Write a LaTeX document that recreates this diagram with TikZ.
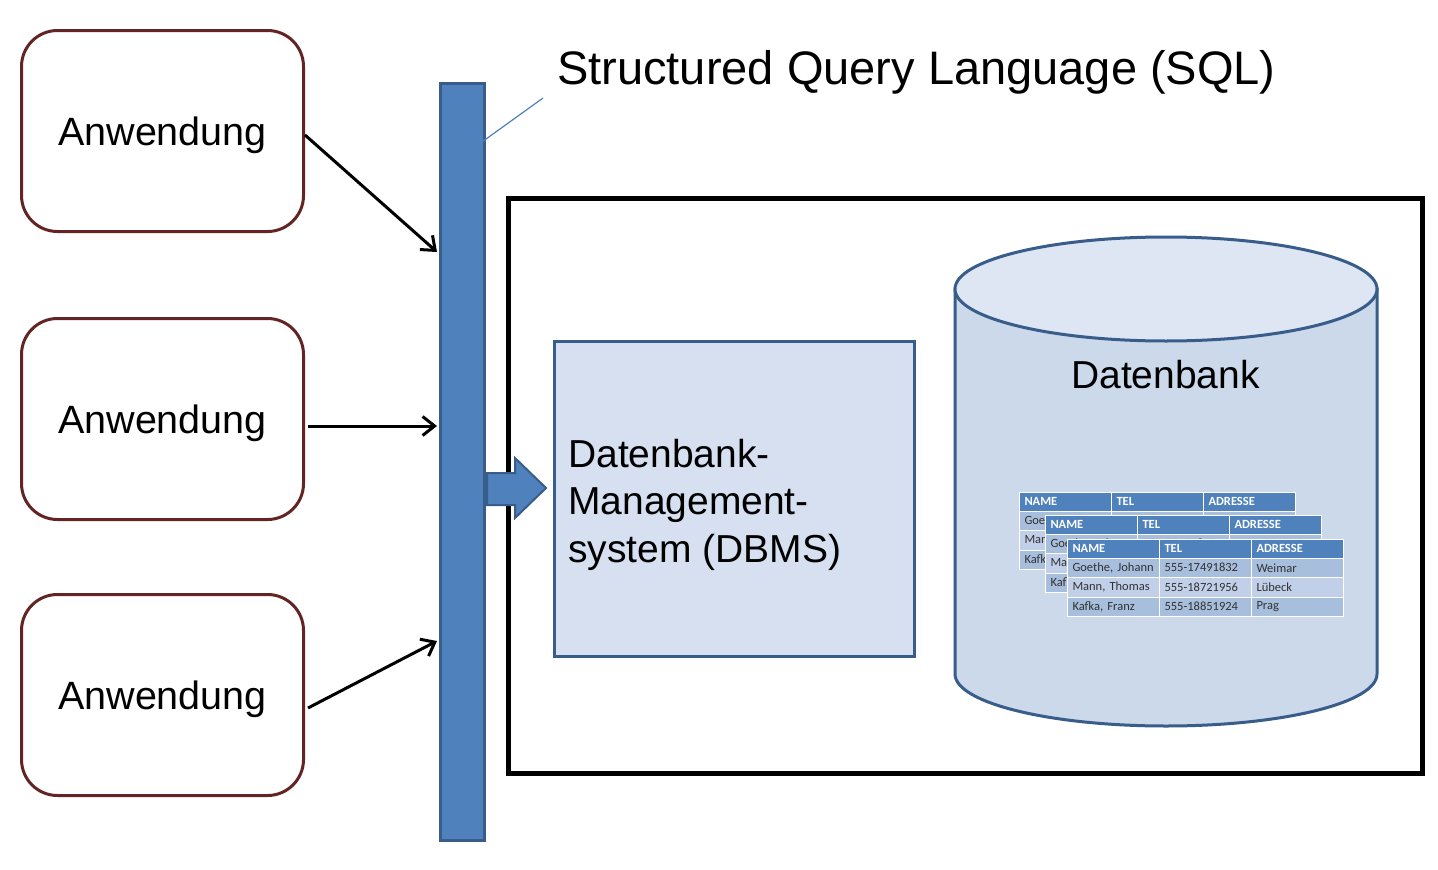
\documentclass[tikz,border=0pt]{standalone}
\usepackage{fontspec}
\setmainfont{Liberation Sans}
\newfontfamily\tabfont{Carlito}
\usetikzlibrary{arrows.meta}
\definecolor{appred}{RGB}{99,37,35}
\definecolor{barblue}{RGB}{79,129,189}
\definecolor{barline}{RGB}{56,93,138}
\definecolor{dbmsfill}{RGB}{214,224,240}
\definecolor{cylbody}{RGB}{203,217,235}
\definecolor{cyltop}{RGB}{221,230,242}
\definecolor{rowdark}{RGB}{168,190,221}
\definecolor{rowlight}{RGB}{193,208,232}
\definecolor{celltext}{RGB}{50,50,50}
\tikzset{
  appbox/.style={draw=appred, line width=3pt, rounded corners=36pt, minimum width=282pt, minimum height=201pt, fill=white, inner sep=0pt, text depth=0pt, font=\fontsize{39.5}{47}\selectfont},
  arr/.style={line width=3pt, -{Straight Barb[length=12pt,width=19pt,line width=3pt]}},
  hcell/.style={fill=barblue, draw=white, line width=1pt, minimum height=18.5pt, text width=82pt, inner xsep=5pt, inner ysep=0pt, align=left, anchor=north west, text=white, font=\tabfont\bfseries\fontsize{12.5}{13}\selectfont},
  dcell/.style={draw=white, line width=1pt, minimum height=19.5pt, text width=82pt, inner xsep=5pt, inner ysep=0pt, align=left, anchor=north west, text=celltext, font=\tabfont\fontsize{12.5}{13}\selectfont}
}
\newcommand\dbtab[3]{%
  \node[hcell] (#1h1) at (#2,#3) {NAME};
  \node[hcell] (#1h2) at (#2+92,#3) {TEL};
  \node[hcell] (#1h3) at (#2+184,#3) {ADRESSE};
  \node[dcell, fill=rowdark] (#1a1) at (#2,#3+18.5) {Goethe, Johann};
  \node[dcell, fill=rowdark] (#1a2) at (#2+92,#3+18.5) {555-17491832};
  \node[dcell, fill=rowdark] (#1a3) at (#2+184,#3+18.5) {Weimar};
  \node[dcell, fill=rowlight] (#1b1) at (#2,#3+38) {Mann, Thomas};
  \node[dcell, fill=rowlight] (#1b2) at (#2+92,#3+38) {555-18721956};
  \node[dcell, fill=rowlight] (#1b3) at (#2+184,#3+38) {Lübeck};
  \node[dcell, fill=rowdark] (#1c1) at (#2,#3+57.5) {Kafka, Franz};
  \node[dcell, fill=rowdark] (#1c2) at (#2+92,#3+57.5) {555-18851924};
  \node[dcell, fill=rowdark] (#1c3) at (#2+184,#3+57.5) {Prag};
}
\begin{document}
\begin{tikzpicture}[x=1pt,y=-1pt]
\useasboundingbox[fill=white] (0,0) rectangle (1438,870);
% applications
\node[appbox] (a1) at (162.5,131) {Anwendung};
\node[appbox] (a2) at (162.5,419) {Anwendung};
\node[appbox] (a3) at (162.5,695) {Anwendung};
% SQL bar
\node[draw=barline, fill=barblue, line width=3pt, minimum width=44pt, minimum height=757pt, inner sep=0pt] (bar) at (462.5,461.5) {};
\coordinate (c1) at (543,98);
\coordinate (c2) at (468,152);
\draw[barblue, line width=1.2pt] (c1) -- (c2);
\node[anchor=base west, inner sep=0pt, font=\fontsize{47}{56}\selectfont] (title) at (557,84.5) {Structured Query Language (SQL)};
% arrows
\coordinate (e1) at (437,252);
\coordinate (e2) at (437,426);
\coordinate (e3) at (437,641);
\draw[arr] ([yshift=-4pt]a1.east) -- (e1);
\draw[arr] ([xshift=3pt,yshift=-7pt]a2.east) -- (e2);
\draw[arr] ([xshift=3pt,yshift=-13pt]a3.east) -- (e3);
% system frame
\node[draw=black, line width=5pt, minimum width=914pt, minimum height=575pt, inner sep=0pt] (dbsys) at (965,485.5) {};
% block arrow
\draw[fill=barblue, draw=barline, line width=2pt, line join=miter] (487,473) -- (515,473) -- (515,458) -- (546,488) -- (515,518) -- (515,505) -- (487,505) -- cycle;
% DBMS
\node[draw=barline, fill=dbmsfill, line width=3pt, minimum width=360pt, minimum height=315pt, inner sep=0pt] (dbms) at (734.5,499) {};
\node[anchor=north west, align=left, inner sep=0pt, font=\fontsize{39}{47.5}\selectfont] (dbmstext) at (568,439) {Datenbank-\\Management-\\system (DBMS)};
% cylinder
\draw[draw=barline, fill=cylbody, line width=3pt] (955,289) -- (955,674) arc[start angle=180, end angle=0, x radius=211, y radius=52] -- (1377,289) -- cycle;
\draw[draw=barline, fill=cyltop, line width=3pt] (1166,289) ellipse[x radius=211, y radius=52];
\node[anchor=base, inner sep=0pt, font=\fontsize{39}{47}\selectfont] (dblabel) at (1165.5,388) {Datenbank};
% tables
\dbtab{t1}{1019}{492}
\dbtab{t2}{1045}{515}
\dbtab{t3}{1067}{539}
\end{tikzpicture}
\end{document}
